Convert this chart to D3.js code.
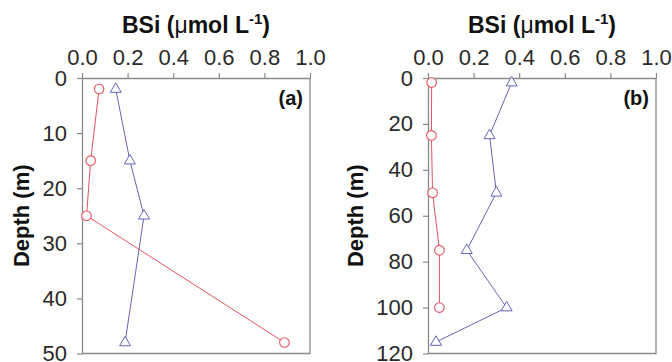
<!DOCTYPE html>
<html>
<head>
<meta charset="utf-8">
<script src="https://cdn.jsdelivr.net/npm/d3@7"></script>
<style>
  body { margin: 0; background: #fff; }
  svg { display: block; font-family: "Liberation Sans", Arial, sans-serif; }
</style>
</head>
<body>
<div id="chart"></div>
<script>
// panel (a)
const depthA = [2, 15, 25, 48];
const circlesA = [0.075, 0.038, 0.02, 0.888];
const trianglesA = [0.148, 0.21, 0.272, 0.189];

// panel (b)
const depthCirclesB = [2, 25, 50, 75, 100];
const circlesB = [0.016, 0.015, 0.02, 0.05, 0.05];
const depthTrianglesB = [2, 25, 50, 75, 100, 115];
const trianglesB = [0.367, 0.27, 0.3, 0.17, 0.345, 0.035];

const xTicks = [0, 0.2, 0.4, 0.6, 0.8, 1.0];
const yTicksA = [0, 10, 20, 30, 40, 50];
const yTicksB = [0, 20, 40, 60, 80, 100, 120];

const red = "#e5535f", blue = "#6565b9", frame = "#8a8a8a";

const W = 672, H = 362;
const svg = d3.select("#chart").append("svg")
    .attr("width", W)
    .attr("height", H);

const triangle = "M0,-6.2L5.5,3.3L-5.5,3.3Z";

function drawPanel(opts) {
    const x = d3.scaleLinear().domain([0, 1]).range([opts.left, opts.left + 228]);
    const y = d3.scaleLinear().domain([0, opts.yMax]).range([78, 353.5]);

    const g = svg.append("g");

    // frame (right + bottom)
    g.append("path")
        .attr("d", `M${x(1)},${y(0)}V${y(opts.yMax)}H${x(0)}`)
        .attr("fill", "none")
        .attr("stroke", frame)
        .attr("stroke-width", 1.3);

    const xAxis = g.append("g")
        .attr("transform", `translate(0,${y(0)})`)
        .call(d3.axisTop(x).tickValues(xTicks).tickFormat(d3.format(".1f"))
            .tickSize(5).tickSizeOuter(0).tickPadding(8));

    const yAxis = g.append("g")
        .attr("transform", `translate(${x(0)},0)`)
        .call(d3.axisLeft(y).tickValues(opts.yTicks)
            .tickSize(5).tickSizeOuter(0).tickPadding(10));

    [xAxis, yAxis].forEach(a => {
        a.select(".domain").attr("stroke", frame).attr("stroke-width", 1.3);
        a.selectAll(".tick line").attr("stroke", frame).attr("stroke-width", 1.2);
        a.selectAll(".tick text")
            .attr("fill", "#2a2a2a")
            .style("font-size", "22px")
            .style("font-family", "'Liberation Sans', Arial, sans-serif");
    });

    // title
    const title = g.append("text")
        .attr("x", (x(0) + x(1)) / 2)
        .attr("y", 33)
        .attr("text-anchor", "middle")
        .style("font-size", "23px")
        .style("font-weight", 700)
        .attr("fill", "#111");
    title.append("tspan").text("BSi (");
    title.append("tspan").style("font-weight", 400).text("\u03bc");
    title.append("tspan").text("mol L");
    title.append("tspan").attr("dy", -9).style("font-size", "15px").text("-1");
    title.append("tspan").attr("dy", 9).text(")");

    // y label
    g.append("text")
        .attr("transform", `translate(${opts.labelX},${(y(0) + y(opts.yMax)) / 2}) rotate(-90)`)
        .attr("text-anchor", "middle")
        .style("font-size", "22px")
        .style("font-weight", 700)
        .attr("fill", "#111")
        .text("Depth (m)");

    // panel letter
    g.append("text")
        .attr("x", x(1) - 7)
        .attr("y", 105)
        .attr("text-anchor", "end")
        .style("font-size", "20px")
        .style("font-weight", 700)
        .attr("fill", "#111")
        .text(opts.letter);

    const line = d3.line().x(d => x(d[0])).y(d => y(d[1]));

    const circ = opts.circleVals.map((v, i) => [v, opts.circleDepth[i]]);
    const tri = opts.triVals.map((v, i) => [v, opts.triDepth[i]]);

    g.append("path").datum(tri)
        .attr("d", line).attr("fill", "none").attr("stroke", blue).attr("stroke-width", 1);
    g.append("path").datum(circ)
        .attr("d", line).attr("fill", "none").attr("stroke", red).attr("stroke-width", 1);

    g.selectAll(".tri")
        .data(tri)
        .join("path")
            .attr("class", "tri")
            .attr("d", triangle)
            .attr("transform", d => `translate(${x(d[0])},${y(d[1])})`)
            .attr("fill", "#fff")
            .attr("stroke", blue)
            .attr("stroke-width", 1);

    g.selectAll(".circ")
        .data(circ)
        .join("circle")
            .attr("class", "circ")
            .attr("cx", d => x(d[0]))
            .attr("cy", d => y(d[1]))
            .attr("r", 4.8)
            .attr("fill", "#fff")
            .attr("stroke", red)
            .attr("stroke-width", 1.1);
}

drawPanel({
    left: 82, yMax: 50, yTicks: yTicksA, letter: "(a)", labelX: 28.5,
    circleDepth: depthA, circleVals: circlesA,
    triDepth: depthA, triVals: trianglesA
});

drawPanel({
    left: 428, yMax: 120, yTicks: yTicksB, letter: "(b)", labelX: 363,
    circleDepth: depthCirclesB, circleVals: circlesB,
    triDepth: depthTrianglesB, triVals: trianglesB
});
</script>
</body>
</html>
